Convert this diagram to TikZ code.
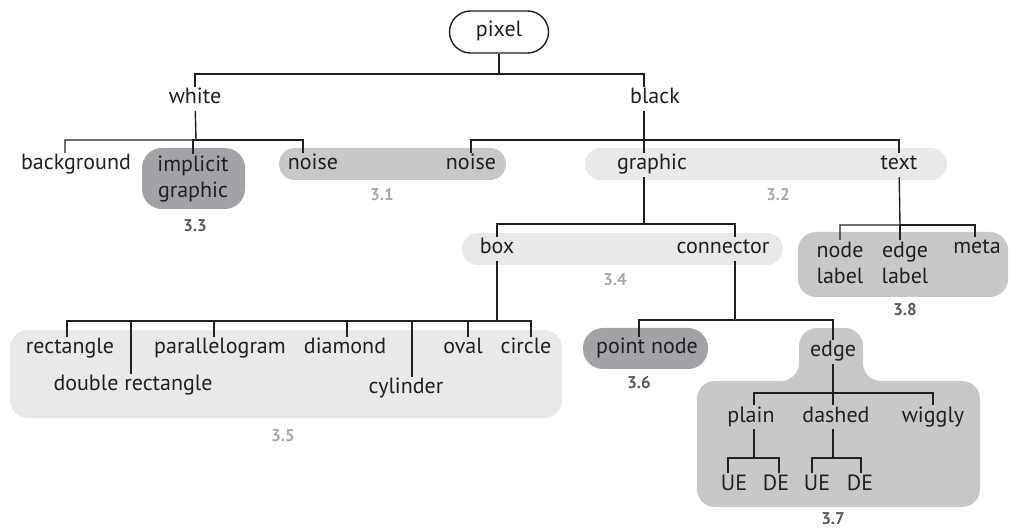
\documentclass[tikz,border=0pt]{standalone}
\usepackage{fontspec}
\setmainfont{PT Sans}
\usepackage{xcolor}
\usepackage{tikz}
\definecolor{ink}{RGB}{35,31,32}
\definecolor{darkfill}{RGB}{162,163,166}
\definecolor{midfill}{RGB}{199,200,202}
\definecolor{lightfill}{RGB}{232,233,234}
\definecolor{darknum}{RGB}{88,89,91}
\definecolor{lightnum}{RGB}{167,169,172}
\tikzset{leaf/.style={inner sep=2pt, text=ink, font=\fontsize{22}{26}\selectfont,
        text height=15pt, text depth=5pt},
    twoline/.style={inner sep=2pt, text=ink, font=\fontsize{22}{26}\selectfont, align=center},
    secnum/.style={inner sep=1pt, font=\bfseries\fontsize{17}{18}\selectfont},
    region/.style={rounded corners=16pt},
    branch/.style={draw=ink, line width=1.4pt}}

\begin{document}
\begin{tikzpicture}[x=1pt, y=-1pt]
    \useasboundingbox (0,0) rectangle (1010,529);
    \fill[darkfill, rounded corners=20pt] (142,148) rectangle (245,209);
    \fill[midfill, region] (279,148) rectangle (506,180);
    \fill[lightfill, region] (585,148) rectangle (947,180);
    \fill[lightfill, region] (462,233) rectangle (783,265);
    \fill[midfill, rounded corners=18pt] (798,232) rectangle (1008,297);
    \fill[lightfill, rounded corners=18pt] (10,330) rectangle (562,418);
    \fill[darkfill, rounded corners=20pt] (583,328) rectangle (708,369);
    \fill[midfill, rounded corners=18pt] (838,507) -- (697,507) -- (697,381) -- (799,381)
        -- (799,328) -- (863,328) -- (863,381) -- (980,381) -- (980,507) -- cycle;

    \node[leaf, draw=ink, line width=1.4pt, fill=white, rounded corners=21pt,
        minimum width=99pt, minimum height=42pt] (pixel) at (499,32) {pixel};
    \node[leaf] (white) at (195,99) {white};
    \node[leaf] (black) at (655,99) {black};
    \node[leaf] (background) at (76,165) {background};
    \node[twoline] (implicit) at (193,179) {implicit\\graphic};
    \node[leaf] (noiseW) at (313,165) {noise};
    \node[leaf] (noiseB) at (471,165) {noise};
    \node[leaf] (graphic) at (652,165) {graphic};
    \node[leaf] (text) at (899,165) {text};
    \node[leaf] (box) at (497,249) {box};
    \node[leaf] (connector) at (723,249) {connector};
    \node[twoline] (nodelabel) at (840,263) {node\\label};
    \node[twoline] (edgelabel) at (905,263) {edge\\label};
    \node[leaf] (meta) at (977,249) {meta};
    \node[leaf] (rectangle) at (70,349) {rectangle};
    \node[leaf] (doublerect) at (133,386) {double rectangle};
    \node[leaf] (parallelogram) at (220,349) {parallelogram};
    \node[leaf] (diamond) at (345,349) {diamond};
    \node[leaf] (cylinder) at (406,389) {cylinder};
    \node[leaf] (oval) at (463,349) {oval};
    \node[leaf] (circle) at (526,349) {circle};
    \node[leaf] (pointnode) at (647,349) {point node};
    \node[leaf] (edge) at (833,352) {edge};
    \node[leaf] (plain) at (751,417) {plain};
    \node[leaf] (dashed) at (836,417) {dashed};
    \node[leaf] (wiggly) at (933,417) {wiggly};
    \node[leaf] (plainUE) at (734,485) {UE};
    \node[leaf] (plainDE) at (776,485) {DE};
    \node[leaf] (dashedUE) at (817,485) {UE};
    \node[leaf] (dashedDE) at (860,485) {DE};

    \node[secnum, lightnum] (s31) at (382,195) {3.1};
    \node[secnum, lightnum] (s32) at (778,195) {3.2};
    \node[secnum, darknum] (s33) at (195,226) {3.3};
    \node[secnum, lightnum] (s34) at (615,280) {3.4};
    \node[secnum, lightnum] (s35) at (283,436) {3.5};
    \node[secnum, darknum] (s36) at (639,383) {3.6};
    \node[secnum, darknum] (s37) at (833,519) {3.7};
    \node[secnum, darknum] (s38) at (905,310) {3.8};

    \coordinate (jpixel) at (499,74);
    \coordinate (jwhite) at (196,140);
    \coordinate (jblack) at (644,140);
    \coordinate (jgraphic) at (644,224);
    \coordinate (jtext) at (900,225);
    \coordinate (jbox) at (497,321);
    \coordinate (jconnector) at (735,320);
    \coordinate (jedge) at (833,393);
    \coordinate (jplain) at (754,458);
    \coordinate (jdashed) at (833,458);

    \draw[branch] (pixel) -- (jpixel) -| (white);
    \draw[branch] (jpixel) -| ([xshift=-11pt]black.north);
    \draw[branch] (white) -- (jwhite) -| ([xshift=-11pt]background.north);
    \draw[branch] (jwhite) -| (implicit);
    \draw[branch] (jwhite) -| ([xshift=-10pt]noiseW.north);
    \draw[branch] ([xshift=-11pt]black.south) -- (jblack) -| (noiseB);
    \draw[branch] (jblack) -| ([xshift=-8pt]graphic.north);
    \draw[branch] (jblack) -| (text);
    \draw[branch] ([xshift=-8pt]graphic.south) -- (jgraphic) -| (box);
    \draw[branch] (jgraphic) -| ([xshift=12pt]connector.north);
    \draw[branch] (text) -- (jtext) -| (nodelabel);
    \draw[branch] (jtext) -| ([xshift=-5pt]edgelabel.north);
    \draw[branch] (jtext) -| ([xshift=-2pt]meta.north);
    \draw[branch] (box) -- (jbox) -| ([xshift=-3pt]rectangle.north);
    \draw[branch] (jbox) -| ([xshift=-2pt]doublerect.north);
    \draw[branch] (jbox) -| ([xshift=-6pt]parallelogram.north);
    \draw[branch] (jbox) -| ([xshift=2pt]diamond.north);
    \draw[branch] (jbox) -| ([xshift=6pt]cylinder.north);
    \draw[branch] (jbox) -| ([xshift=5pt]oval.north);
    \draw[branch] (jbox) -| ([xshift=5pt]circle.north);
    \draw[branch] ([xshift=12pt]connector.south) -- (jconnector) -| ([xshift=-8pt]pointnode.north);
    \draw[branch] (jconnector) -| (edge);
    \draw[branch] (edge) -- (jedge) -| ([xshift=3pt]plain.north);
    \draw[branch] (jedge) -| ([xshift=-3pt]dashed.north);
    \draw[branch] (jedge) -| (wiggly);
    \draw[branch] ([xshift=3pt]plain.south) -- (jplain) -| ([xshift=-6pt]plainUE.north);
    \draw[branch] (jplain) -| ([xshift=3pt]plainDE.north);
    \draw[branch] ([xshift=-3pt]dashed.south) -- (jdashed) -| ([xshift=-5pt]dashedUE.north);
    \draw[branch] (jdashed) -| ([xshift=1pt]dashedDE.north);
\end{tikzpicture}
\end{document}
